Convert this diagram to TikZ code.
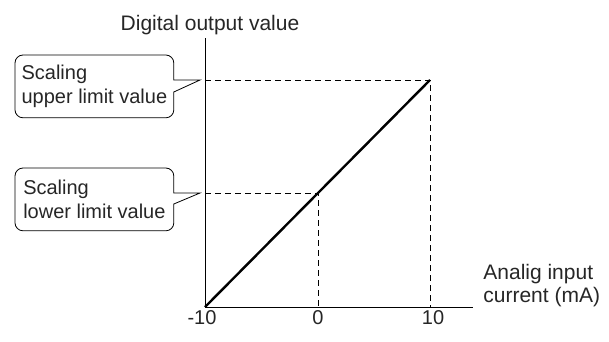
\documentclass[tikz,border=0pt]{standalone}
\usepackage{fontspec}
\setmainfont{Liberation Sans}
\usepackage{tikz}
\usetikzlibrary{calc}
\definecolor{ink}{HTML}{262626}

\begin{document}
\begin{tikzpicture}[x=1pt,y=1pt,line width=0.8pt,
                    font=\fontsize{20}{24}\selectfont]
  \tikzstyle{every node}=[text=ink]
  \tikzstyle{callbox}=[anchor=north west,minimum width=158pt,minimum height=62pt,
                       inner xsep=6pt,inner ysep=0pt,align=left]
  \tikzstyle{guide}=[dash pattern=on 6pt off 4pt]
  \tikzstyle{tick}=[anchor=base]
  \tikzstyle{axislabel}=[font=\fontsize{21}{23}\selectfont]
  \useasboundingbox (0,0) rectangle (609,341);

  \coordinate  (O)      at (205,34);
  \coordinate  (ytop)   at (205,303);
  \coordinate  (xend)   at (473,34);
  \coordinate  (hi)     at (430,261);
  \coordinate  (lo)     at (318,148);
  \coordinate  (hiy)    at (O |- hi);
  \coordinate  (loy)    at (O |- lo);
  \coordinate  (hix)    at (hi |- O);
  \coordinate  (lox)    at (lo |- O);
  \coordinate  (uptip)  at (200,261);
  \coordinate  (lowtip) at (200,148);

  % axes and scaling line
  \draw (O) -- (ytop);
  \draw (O) -- (xend);
  \draw[guide] (hiy) -- (hi) -- (hix);
  \draw[guide] (loy) -- (lo) -- (lox);
  \draw[line width=2.4pt] (O) -- (hi);

  \node[axislabel,anchor=base] (ylab) at (210,311) {Digital output value};
  \node[axislabel,anchor=west,align=left,inner sep=0pt]
        (xlab) at (483,55) {Analig input\\current (mA)};
  \node[tick] (tmin)  at (202,17) {-10};
  \node[tick] (tzero) at (318,17) {0};
  \node[tick] (tmax)  at (433,17) {10};

  % callouts
  \node[callbox] (upper) at (15,286) {Scaling\\upper limit value};
  \node[callbox] (lower) at (15,173) {Scaling\\lower limit value};

  \draw[rounded corners=8pt] (upper.east |- uptip) -- (upper.north east)
        -- (upper.north west) -- (upper.south west) -- (upper.south east)
        [sharp corners] -- ($(upper.east |- uptip)+(0,-12)$) -- (uptip) -- cycle;
  \draw[rounded corners=8pt] (lower.east |- lowtip) -- (lower.north east)
        -- (lower.north west) -- (lower.south west) -- (lower.south east)
        [sharp corners] -- ($(lower.east |- lowtip)+(0,-11)$) -- (lowtip) -- cycle;

\end{tikzpicture}
\end{document}
